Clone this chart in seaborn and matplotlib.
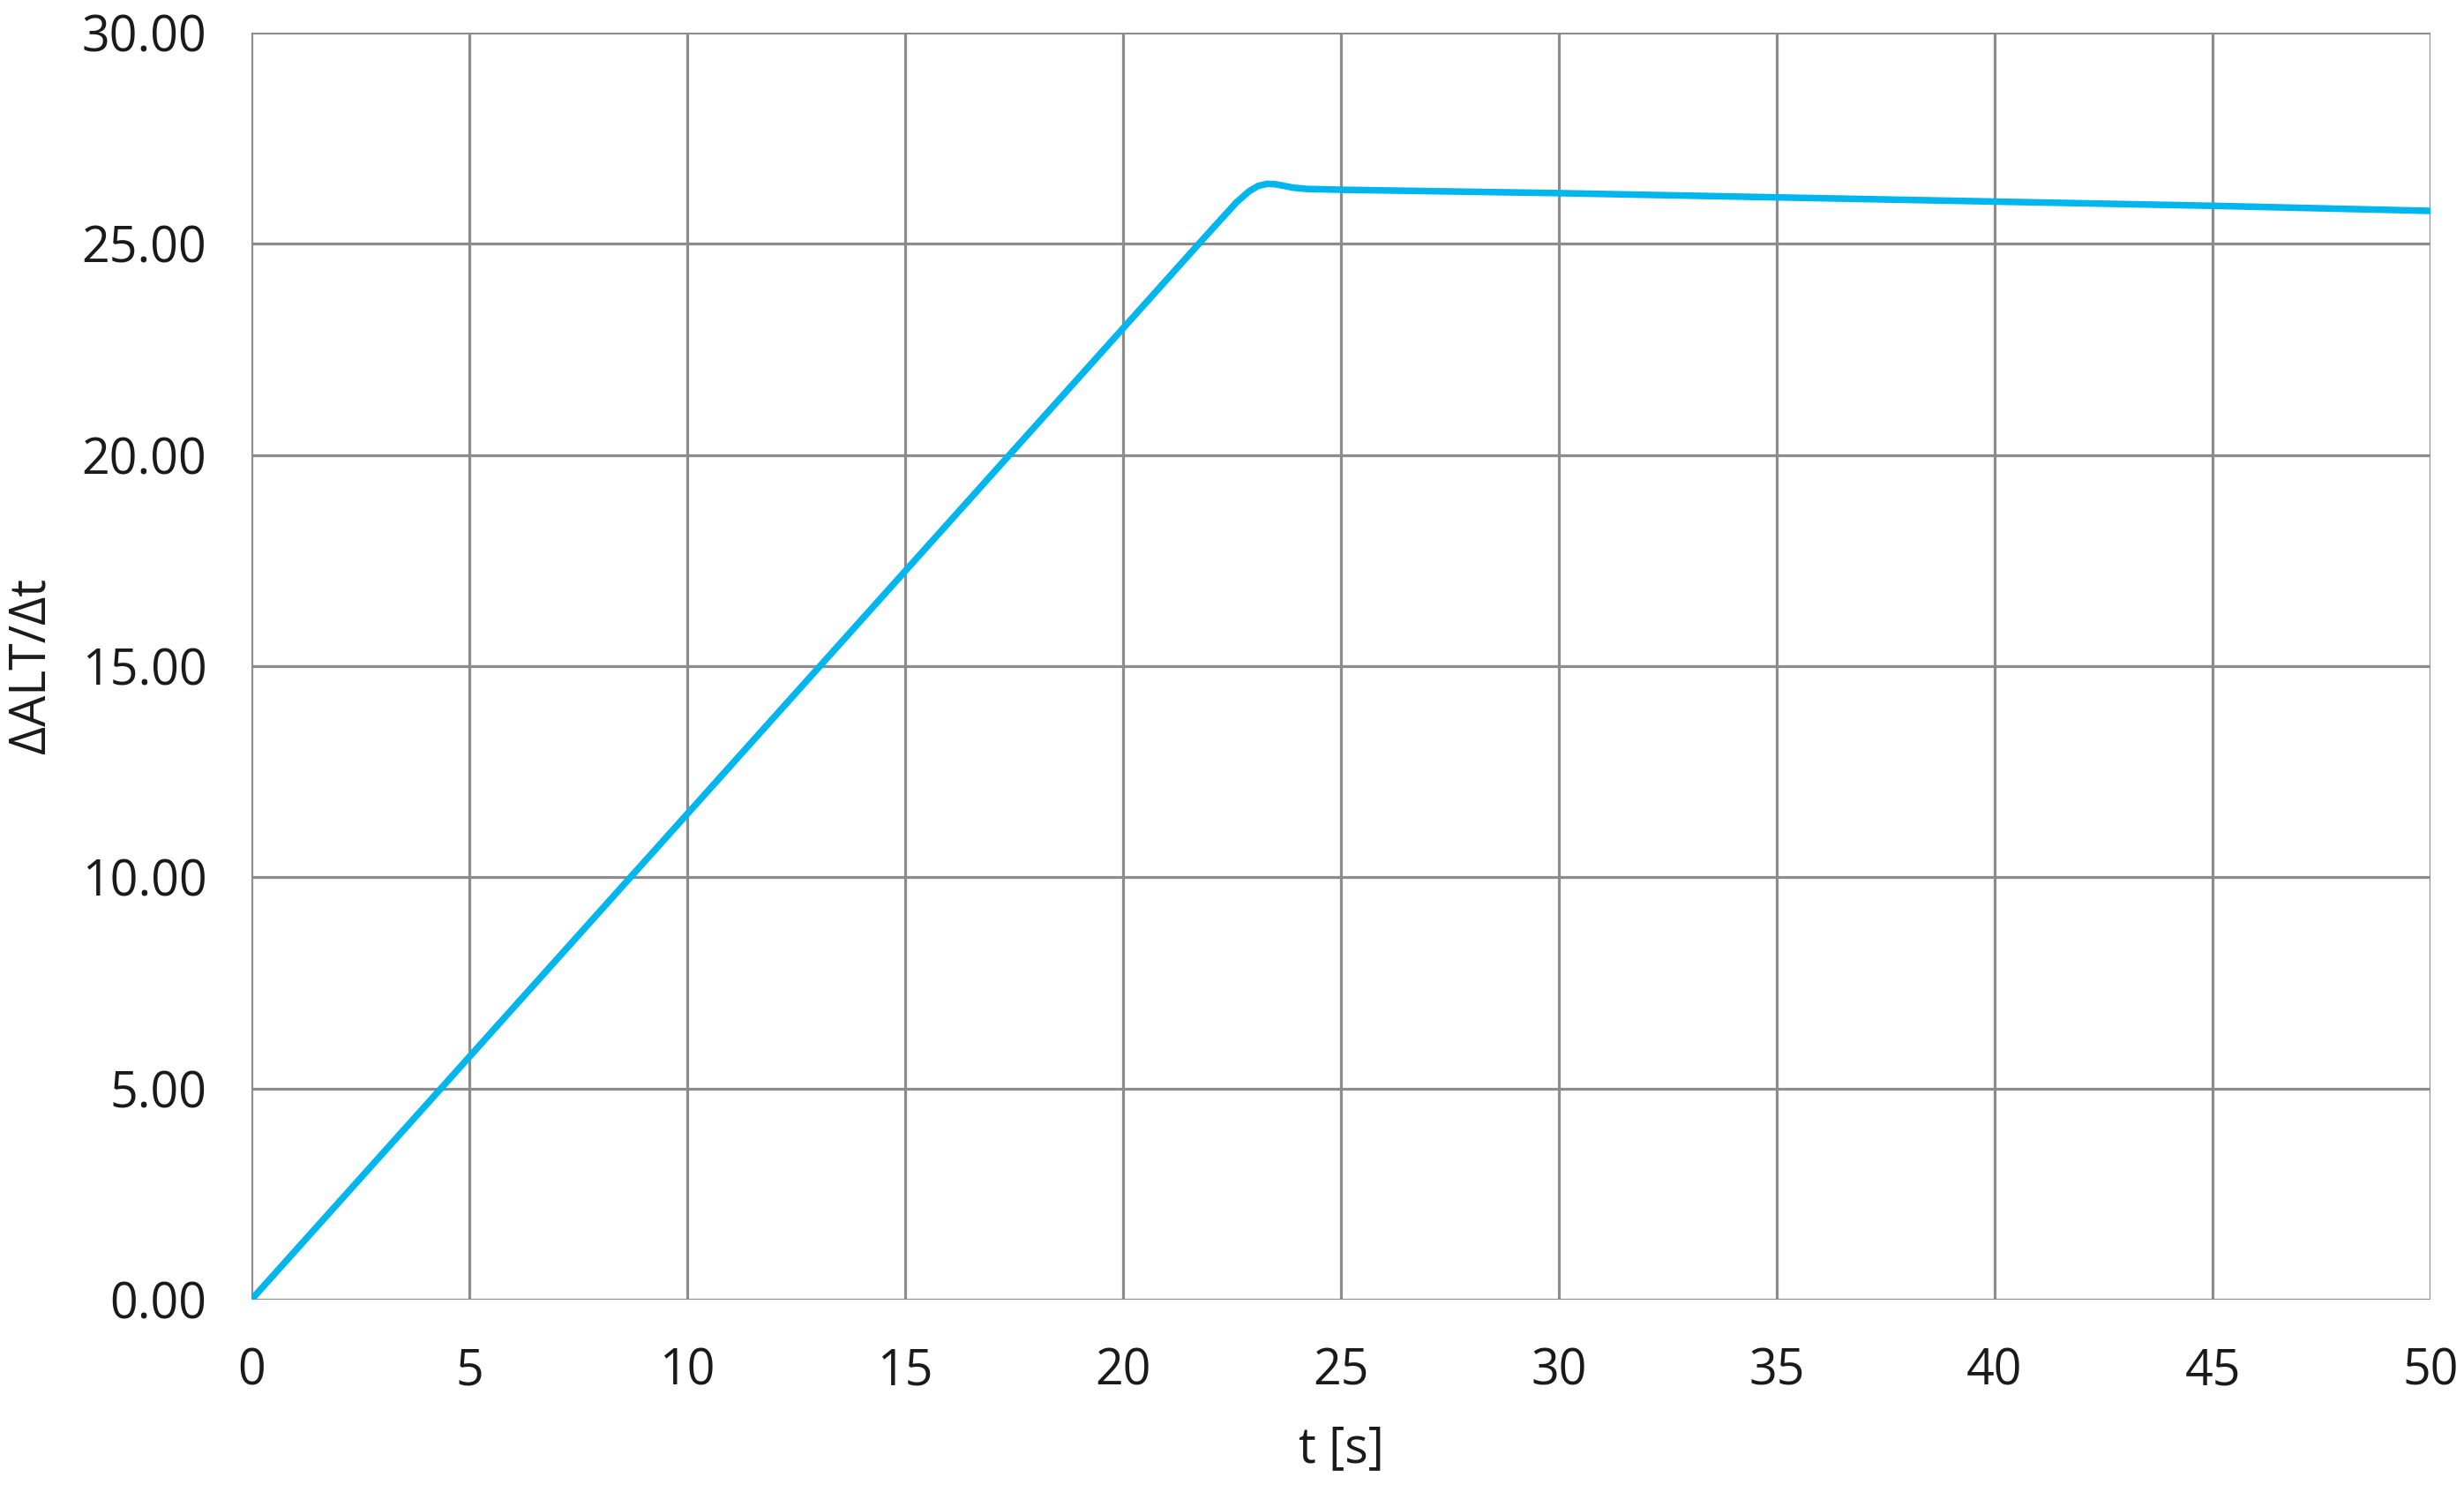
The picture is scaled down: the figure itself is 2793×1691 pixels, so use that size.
import matplotlib
matplotlib.use("Agg")
import matplotlib.pyplot as plt
import seaborn as sns
import pandas as pd

# Data
t_s = [0, 5, 10, 15, 20, 21, 22, 22.3, 22.6, 22.9, 23.1, 23.3, 23.5, 23.7, 23.9, 24.2, 24.6, 25,
       30, 35, 40, 45, 50]
dalt_dt = [0.0, 5.75, 11.5, 17.25, 23.0, 24.15, 25.3, 25.64, 25.98, 26.25, 26.37, 26.42, 26.41, 26.37,
           26.33, 26.30, 26.29, 26.28, 26.2, 26.1, 26.0, 25.9, 25.78]

x_ticks = [0, 5, 10, 15, 20, 25, 30, 35, 40, 45, 50]
y_ticks = [0, 5, 10, 15, 20, 25, 30]
y_tick_labels = [f"{v:.2f}" for v in y_ticks]

df = pd.DataFrame({"t": t_s, "v": dalt_dt})

sns.set_theme(style="white")
plt.rcParams['font.family'] = ['Open Sans', 'DejaVu Sans']

W, H = 2793, 1691
fig = plt.figure(figsize=(W / 100, H / 100), dpi=100)
ax = fig.add_axes([285 / W, 1 - 1473 / H, (2755 - 285) / W, (1473 - 37) / H])

grid_color = "#8c8c8c"
sns.lineplot(data=df, x="t", y="v", ax=ax, color="#00b6ee", linewidth=5.4, zorder=3)

ax.set_xlim(0, 50)
ax.set_ylim(0, 30)
ax.set_xticks(x_ticks)
ax.set_xticklabels([str(v) for v in x_ticks])
ax.set_yticks(y_ticks)
ax.set_yticklabels(y_tick_labels)

ax.grid(True, color=grid_color, linewidth=2.3, zorder=0)
for s in ax.spines.values():
    s.set_visible(False)

ax.tick_params(axis="both", which="major", direction="out", length=14.5, width=2.3,
               color=grid_color, labelsize=40, labelcolor="#1a1a1a")
ax.tick_params(axis="y", pad=22)
ax.tick_params(axis="x", pad=24)

ax.set_xlabel("t [s]", fontsize=40, color="#1a1a1a", labelpad=22)
ax.set_ylabel("ΔALT/Δt", fontsize=40, color="#1a1a1a", labelpad=20)

fig.savefig("out.png", dpi=100, facecolor="white")
